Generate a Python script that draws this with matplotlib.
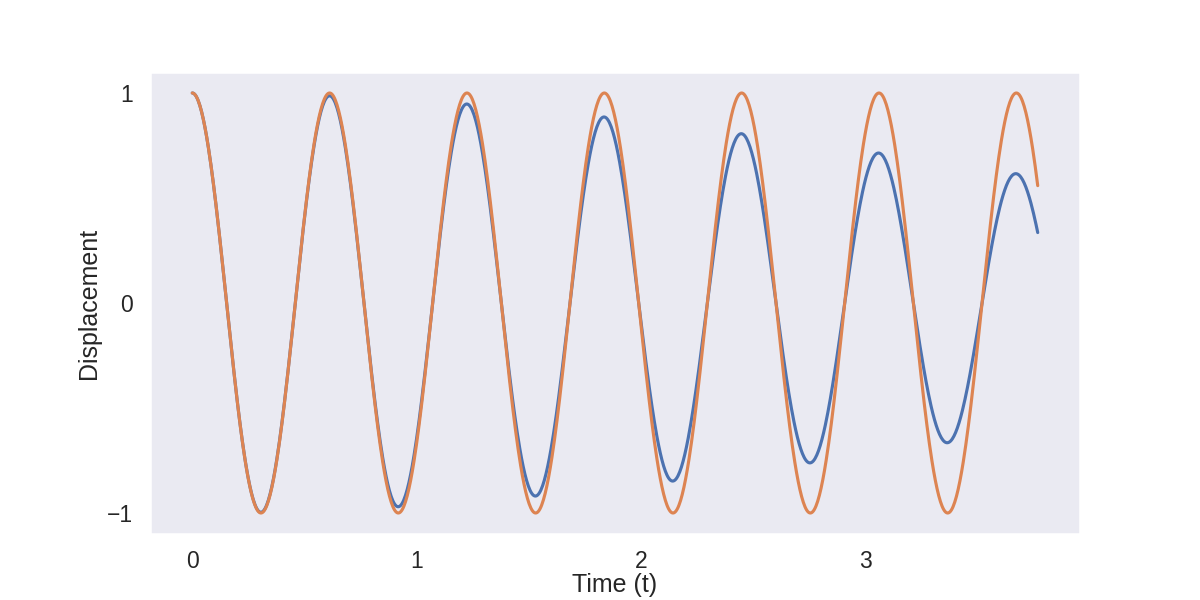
import numpy as np
import matplotlib
matplotlib.use("Agg")
import matplotlib.pyplot as plt
import seaborn as sns

# values
omega = 10.27          # angular frequency (period ~0.612)
damping = 0.036        # gaussian envelope coefficient of the damped curve
t_end = 3.766          # last time sample
n_samples = 1000

t = np.linspace(0, t_end, n_samples)
undamped = np.cos(omega * t)
damped = np.exp(-damping * t ** 2) * np.cos(omega * t)

sns.set_theme(context="talk")
plt.rcParams["font.family"] = ["Liberation Sans", "DejaVu Sans"]

fig, ax = plt.subplots(figsize=(12, 6), dpi=100)
ax.plot(t, damped, color="#4c72b0")
ax.plot(t, undamped, color="#dd8452")
ax.grid(False)
ax.set_xticks([0, 1, 2, 3])
ax.set_yticks([-1, 0, 1])
ax.tick_params(axis="x", pad=2.5)
ax.set_xlabel("Time (t)", labelpad=0)
ax.set_ylabel("Displacement")

plt.savefig("out.png")
